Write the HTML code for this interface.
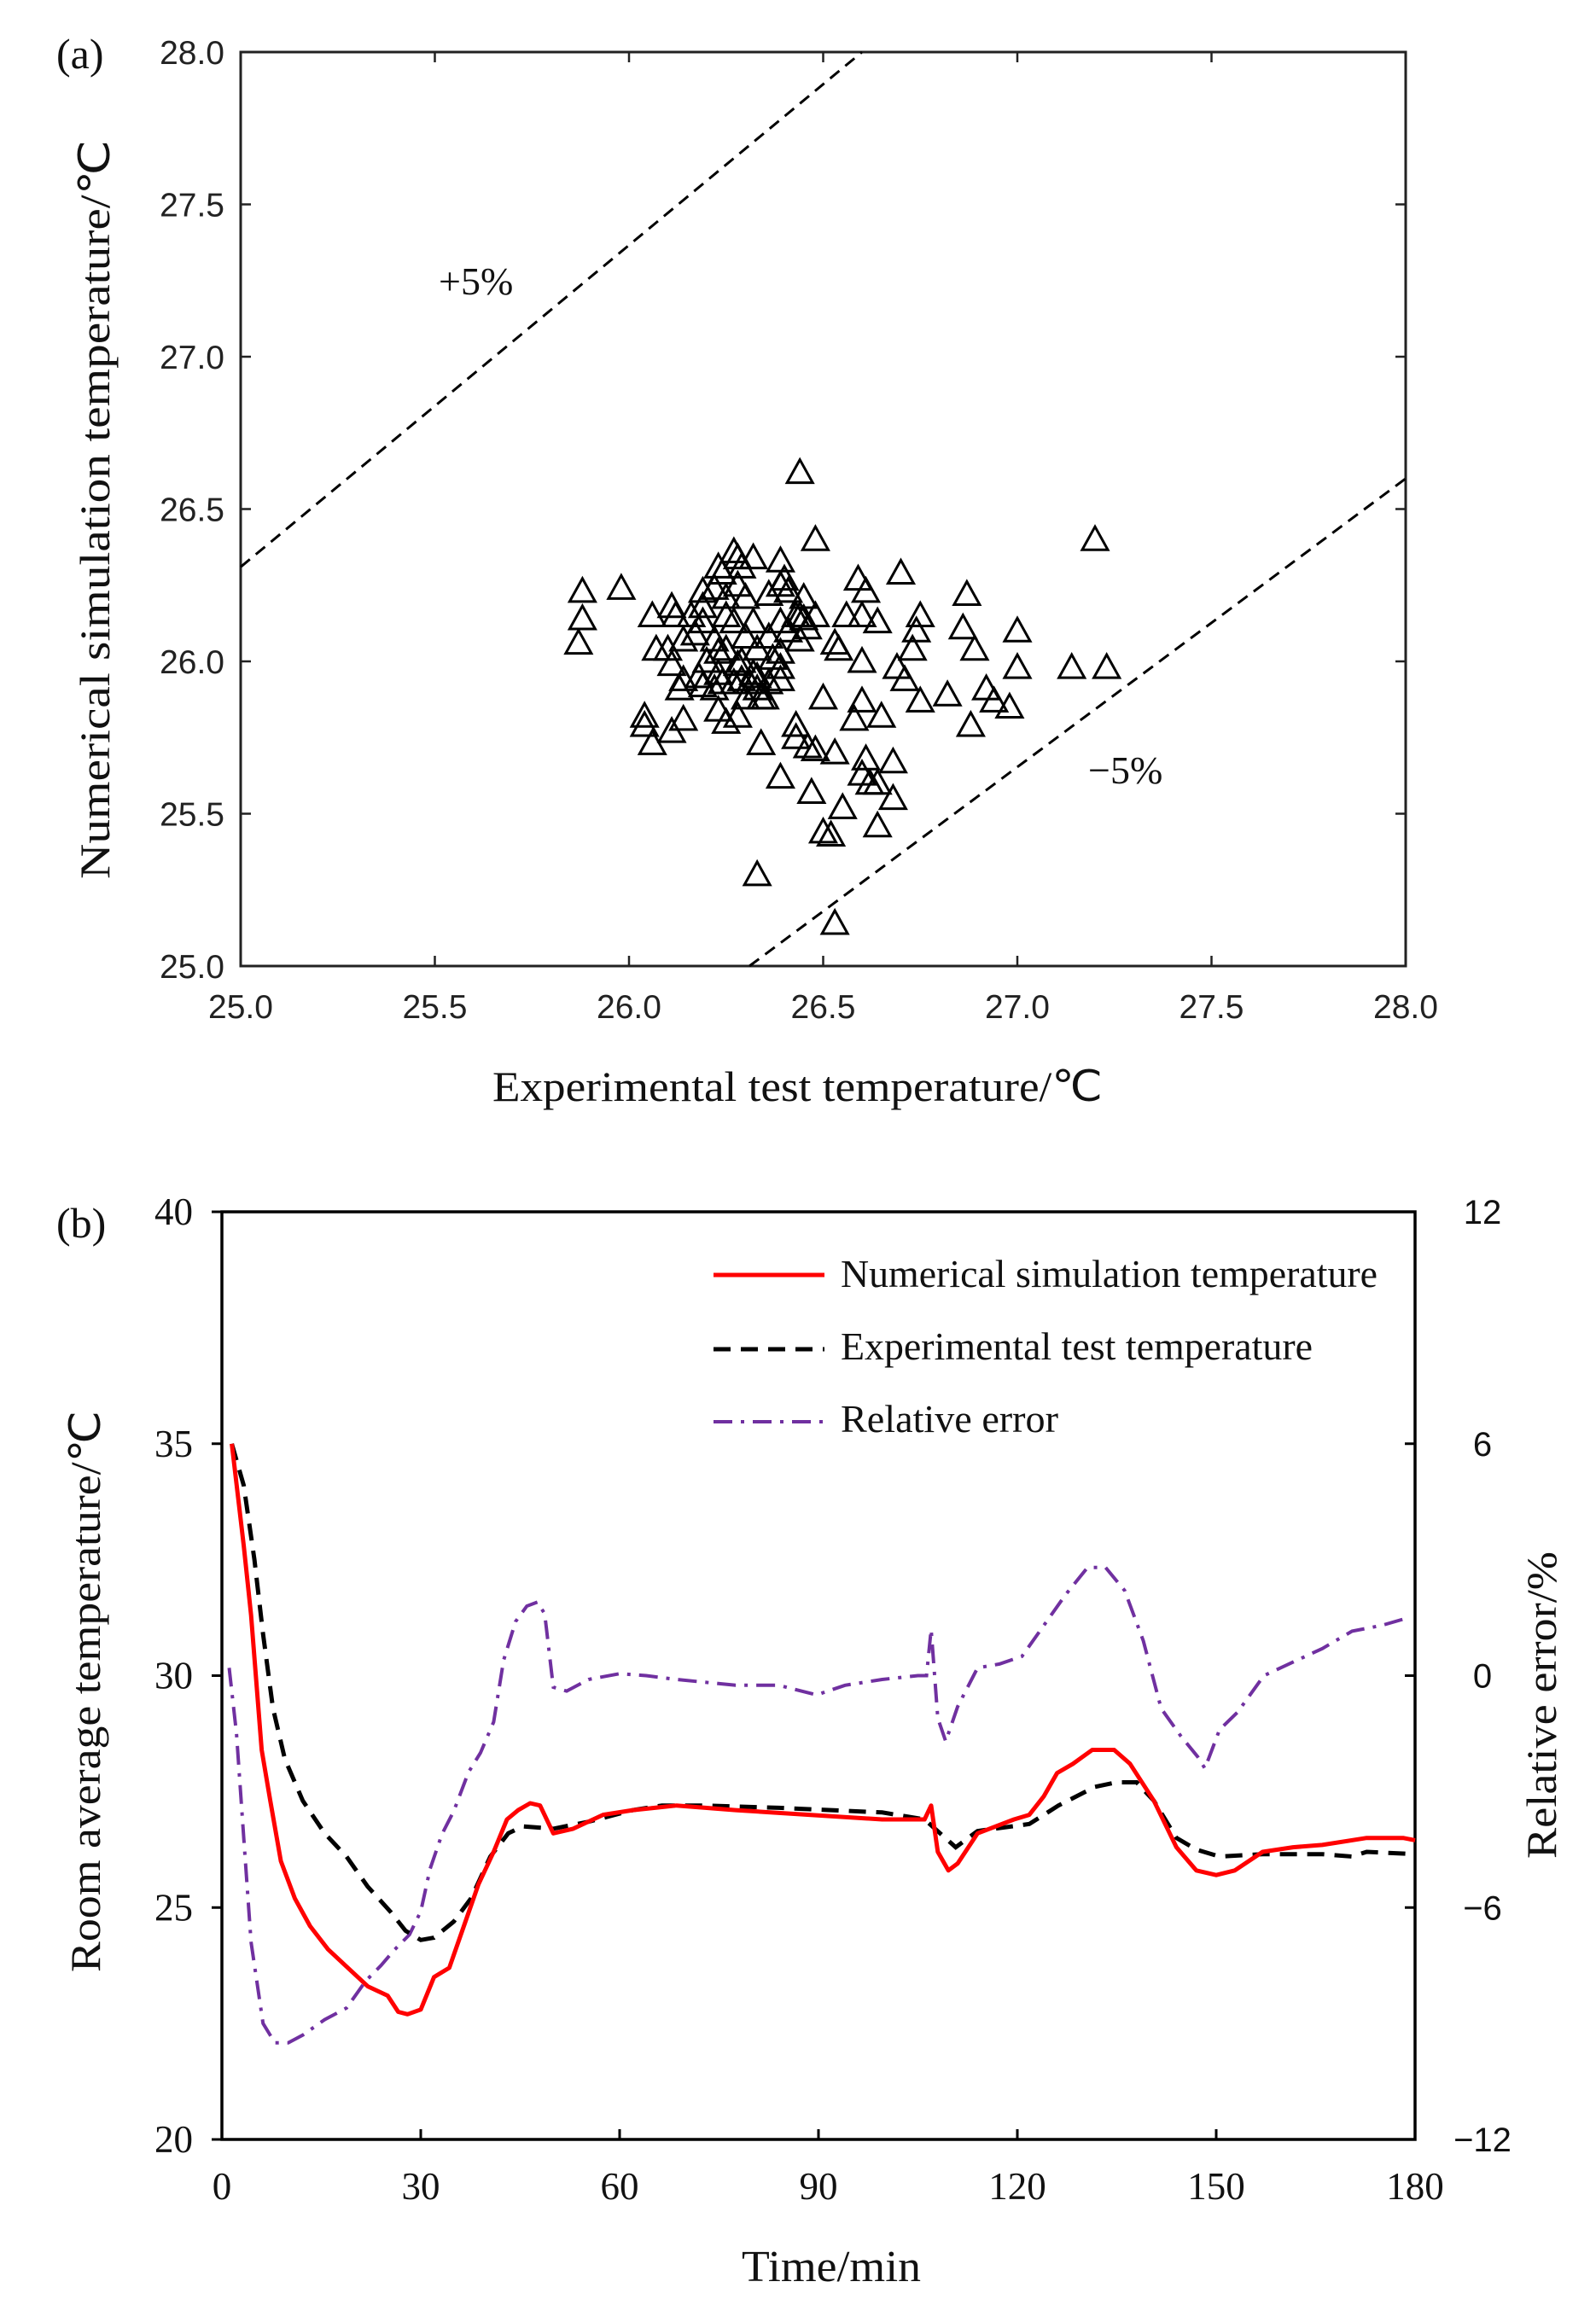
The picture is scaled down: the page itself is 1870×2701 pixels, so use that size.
<!DOCTYPE html>
<html><head><meta charset="utf-8">
<style>
html,body{margin:0;padding:0;background:#fff;}
svg{display:block;}
.sans{font-family:"Liberation Sans",Arial,sans-serif;}
.serif{font-family:"Liberation Serif","Times New Roman",serif;}
</style></head>
<body>
<svg id="fig" width="1870" height="2701" viewBox="0 0 1870 2701" xmlns="http://www.w3.org/2000/svg">
  <rect x="0" y="0" width="1870" height="2701" fill="#fff"/>
  <g id="chartA"></g>
  <g id="chartB"></g>
</svg>
<script>
// ---------- Chart (a) data ----------
const scatterX = [25.88,25.88,25.87,25.98,26.06,26.11,26.12,26.07,26.10,26.11,26.14,26.13,26.04,26.04,26.06,26.11,26.14,26.19,26.19,26.22,26.20,26.23,26.24,26.25,26.23,26.24,26.27,26.28,26.29,26.32,26.39,26.40,26.41,26.45,26.48,26.44,26.59,26.61,26.60,26.64,26.70,26.75,26.74,26.73,26.69,26.71,26.75,26.82,26.87,26.86,26.89,27.00,27.00,26.92,26.94,26.98,26.88,27.14,27.23,27.20,26.60,26.60,26.58,26.65,26.53,26.54,26.56,26.53,26.61,26.68,26.60,26.62,26.64,26.68,26.64,26.55,26.50,26.52,26.47,26.39,26.34,26.48,26.46,26.50,26.43,26.43,26.35,26.33,26.53,26.43,26.39,26.36,26.33,26.37,26.39,26.32,26.29,26.33,26.30,26.27,26.22,26.19,26.18,26.29,26.25,26.30,26.32,26.30,26.36,26.39,26.44,26.45,26.41,26.39,26.44,26.28,26.25,26.22,26.19,26.16,26.17,26.14,26.33,26.31,26.36,26.28,26.23,26.48,26.46,26.39,26.34,26.23,26.28,26.27,26.25];
const scatterY = [26.23,26.14,26.06,26.24,26.15,26.18,26.15,26.04,26.04,25.99,25.94,25.91,25.82,25.79,25.73,25.77,25.81,26.18,26.13,26.07,26.00,25.96,25.93,25.80,26.31,26.29,26.36,26.34,26.31,26.34,26.33,26.27,26.23,26.21,26.40,26.62,26.27,26.23,26.15,26.13,26.29,26.15,26.10,26.04,25.98,25.94,25.87,25.89,26.22,26.11,26.04,26.10,25.98,25.91,25.87,25.85,25.79,25.98,25.98,26.40,26.00,25.87,25.81,25.82,26.06,26.04,26.15,25.70,25.68,25.67,25.63,25.60,25.60,25.55,25.46,25.52,25.44,25.43,25.57,25.62,25.73,25.71,25.72,25.88,25.79,25.75,25.88,25.30,25.14,26.15,26.13,26.08,26.04,26.01,25.98,25.96,25.94,25.91,25.88,25.93,25.91,25.92,25.95,26.00,26.04,26.08,26.13,26.21,26.22,26.25,26.15,26.14,26.10,26.03,26.07,26.25,26.21,26.24,26.23,26.15,26.09,26.07,25.95,25.93,25.93,25.99,26.03,26.15,26.11,25.94,25.88,25.84,25.82,26.13,26.15];
const aTicks = [25.0,25.5,26.0,26.5,27.0,27.5,28.0];
const aTickLabels = ["25.0","25.5","26.0","26.5","27.0","27.5","28.0"];
const plusLineX = [25.0,26.60];
const plusLineY = [26.31,28.0];
const minusLineX = [26.31,28.0];
const minusLineY = [25.0,26.60];

// ---------- Chart (b) data ----------
const simT = [1.5,3.3,4.4,6,7.3,8.9,11,13.3,16,19,22,25,26.6,28,30,32,34.3,36.5,38.7,41,43,44.7,46.5,48,50,53,57.5,62,68.6,77.5,88.6,99.6,106,107,108,109.6,111,114,119.5,121.8,124,126,128.4,131.3,134.6,137,140.6,144,147,150,152.8,157,161.6,166,172.7,178.2,180];
const simV = [35.0,32.8,31.3,28.4,27.3,26.0,25.2,24.6,24.1,23.7,23.3,23.1,22.75,22.7,22.8,23.5,23.7,24.6,25.5,26.2,26.9,27.1,27.25,27.2,26.6,26.7,27.0,27.1,27.2,27.1,27.0,26.9,26.9,27.2,26.2,25.8,25.95,26.6,26.9,27.0,27.4,27.9,28.1,28.4,28.4,28.1,27.3,26.3,25.8,25.7,25.8,26.2,26.3,26.35,26.5,26.5,26.45];
const expT = [1.5,3.3,4.9,6.2,7.7,9.5,12.2,15.5,18.8,22,25.5,27.7,30,32,35,37.6,40.5,43.2,45.4,50,55.3,62,66.4,73,84,99.6,106,110.7,114,121.8,126.2,131.7,135,138,140.6,144,147,150.5,157,166,170.5,172.7,180];
const expV = [35.0,34.1,32.5,30.9,29.3,28.2,27.3,26.6,26.1,25.45,24.9,24.5,24.3,24.35,24.7,25.2,26.1,26.6,26.75,26.7,26.85,27.1,27.2,27.2,27.15,27.05,26.9,26.3,26.65,26.8,27.2,27.6,27.7,27.7,27.3,26.5,26.25,26.1,26.15,26.15,26.1,26.2,26.15];
const errT = [1.1,2.2,3.3,4.4,6.2,8,10,12.2,15.5,18.8,21.7,24,26,28.3,30,31.4,33.2,35,37.2,39,41,42.5,44.3,46,47.6,48.7,50,52,55.3,60,64,68.6,77.5,84,89.7,94,99.6,105,106.3,107,108,109.2,111,114,117.3,120.7,124,127.3,130.6,133.3,136.2,139,141.7,144.6,147.2,148.3,150.5,153.2,157.2,161.6,166,170.5,175,179];
const errV = [0.2,-1.5,-4.2,-6.9,-9.0,-9.5,-9.5,-9.3,-8.9,-8.6,-7.9,-7.5,-7.1,-6.7,-6.1,-5.0,-4.1,-3.5,-2.5,-2.0,-1.2,0.4,1.4,1.8,1.9,1.6,-0.3,-0.4,-0.1,0.05,0,-0.1,-0.25,-0.25,-0.5,-0.25,-0.1,0,0,1.2,-1.1,-1.7,-0.8,0.2,0.3,0.5,1.3,2.1,2.8,2.8,2.2,0.9,-0.85,-1.55,-2.1,-2.4,-1.4,-0.95,0,0.35,0.7,1.15,1.3,1.5];
const bXTicks = [0,30,60,90,120,150,180];
const bXLabels = ["0","30","60","90","120","150","180"];
const bLTicks = [20,25,30,35,40];
const bLLabels = ["20","25","30","35","40"];
const bRTicks = [-12,-6,0,6,12];
const bRLabels = ["\u221212","\u22126","0","6","12"];

const NS = "http://www.w3.org/2000/svg";
function mk(parent, tag, attrs, text){
  const e = document.createElementNS(NS, tag);
  for (const k in attrs) e.setAttribute(k, attrs[k]);
  if (text !== undefined) e.textContent = text;
  parent.appendChild(e);
  return e;
}

// ===== Chart A =====
(function(){
  const g = document.getElementById('chartA');
  const L=282, R=1647, T=61, B=1132;
  const xs = v => L + (v-25)/3*(R-L);
  const ys = v => B - (v-25)/3*(B-T);
  const frame = mk(g,'rect',{x:L,y:T,width:R-L,height:B-T,fill:'none',stroke:'#222','stroke-width':3});
  
  
  aTicks.forEach((v,i)=>{
    const t1 = mk(g,'line',{x1:xs(v),y1:B,x2:xs(v),y2:B-12,stroke:'#222','stroke-width':2.5});
    
    
    const t2 = mk(g,'line',{x1:xs(v),y1:T,x2:xs(v),y2:T+12,stroke:'#222','stroke-width':2.5});
    
    
    const t3 = mk(g,'line',{x1:L,y1:ys(v),x2:L+12,y2:ys(v),stroke:'#222','stroke-width':2.5});
    
    
    const t4 = mk(g,'line',{x1:R,y1:ys(v),x2:R-12,y2:ys(v),stroke:'#222','stroke-width':2.5});
    
    
    const xl = mk(g,'text',{x:xs(v),y:B+61,'text-anchor':'middle','font-size':39,fill:'#222',class:'sans'},aTickLabels[i]);
    
    
    const yl = mk(g,'text',{x:263,y:ys(v)+14,'text-anchor':'end','font-size':39,fill:'#222',class:'sans'},aTickLabels[i]);
    
    
  });
  const p = mk(g,'line',{x1:xs(plusLineX[0]),y1:ys(plusLineY[0]),x2:xs(plusLineX[1]),y2:ys(plusLineY[1]),stroke:'#000','stroke-width':3,'stroke-dasharray':'14 9'});
  
  
  const m = mk(g,'line',{x1:xs(minusLineX[0]),y1:ys(minusLineY[0]),x2:xs(minusLineX[1]),y2:ys(minusLineY[1]),stroke:'#000','stroke-width':3,'stroke-dasharray':'14 9'});
  
  
  scatterX.forEach((xv,i)=>{
    const cx = xs(xv), cy = ys(scatterY[i]);
    const tri = mk(g,'polygon',{points:`${cx},${cy-15} ${cx-15},${cy+12} ${cx+15},${cy+12}`,fill:'none',stroke:'#000','stroke-width':3});
    
    
  });
  const lp = mk(g,'text',{x:514,y:345,'font-size':46,fill:'#111',class:'serif'},'+5%');
  
  
  const lm = mk(g,'text',{x:1275,y:918,'font-size':46,fill:'#111',class:'serif'},'\u22125%');
  
  
  const pl = mk(g,'text',{x:66,y:80,'font-size':50,fill:'#111',class:'serif'},'(a)');
  
  
  const xt = mk(g,'text',{x:577,y:1290,'font-size':50,fill:'#111',class:'serif',textLength:715,lengthAdjust:'spacingAndGlyphs'},'Experimental test temperature/\u2103');
  
  
  const yt = mk(g,'text',{x:0,y:0,'font-size':50,fill:'#111',class:'serif',textLength:866,lengthAdjust:'spacingAndGlyphs',transform:'translate(128,1030) rotate(-90)'},'Numerical simulation temperature/\u2103');
  
  
})();

// ===== Chart B =====
(function(){
  const g = document.getElementById('chartB');
  const L=260, R=1658, T=1420, B=2507;
  const xs = v => L + v/180*(R-L);
  const yl = v => B - (v-20)/20*(B-T);
  const yr = v => B - (v+12)/24*(B-T);
  const frame = mk(g,'rect',{x:L,y:T,width:R-L,height:B-T,fill:'none',stroke:'#000','stroke-width':3.5});
  
  
  bXTicks.forEach((v,i)=>{
    const t = mk(g,'line',{x1:xs(v),y1:B,x2:xs(v),y2:B-12,stroke:'#000','stroke-width':3});
    
    
    const l = mk(g,'text',{x:xs(v),y:B+70,'text-anchor':'middle','font-size':45,fill:'#111',class:'serif'},bXLabels[i]);
    
    
  });
  bLTicks.forEach((v,i)=>{
    const t = mk(g,'line',{x1:L,y1:yl(v),x2:L-12,y2:yl(v),stroke:'#000','stroke-width':3});
    
    
    const l = mk(g,'text',{x:226,y:yl(v)+15,'text-anchor':'end','font-size':45,fill:'#111',class:'serif'},bLLabels[i]);
    
    
  });
  bRTicks.forEach((v,i)=>{
    const t = mk(g,'line',{x1:R,y1:yr(v),x2:R-12,y2:yr(v),stroke:'#000','stroke-width':3});
    
    
    const l = mk(g,'text',{x:1737,y:yr(v)+14,'text-anchor':'middle','font-size':40,fill:'#111',class:'sans'},bRLabels[i]);
    
    
  });
  const path = (T_,V_,f) => T_.map((t,i)=>(i?'L':'M')+xs(t).toFixed(1)+','+f(V_[i]).toFixed(1)).join(' ');
  const pe = mk(g,'path',{d:path(errT,errV,yr),fill:'none',stroke:'#7030A0','stroke-width':4,'stroke-dasharray':'22 10 4 10'});
  
  
  const px = mk(g,'path',{d:path(expT,expV,yl),fill:'none',stroke:'#000','stroke-width':5,'stroke-dasharray':'20 12'});
  
  
  const ps = mk(g,'path',{d:path(simT,simV,yl),fill:'none',stroke:'#f00','stroke-width':5,'stroke-linejoin':'round'});
  
  
  // legend
  const lg = mk(g,'g',{});
  
  
  const s1 = mk(lg,'line',{x1:836,y1:1494,x2:966,y2:1494,stroke:'#f00','stroke-width':5});
  
  
  const s2 = mk(lg,'line',{x1:836,y1:1581,x2:966,y2:1581,stroke:'#000','stroke-width':5,'stroke-dasharray':'20 12'});
  
  
  const s3 = mk(lg,'line',{x1:836,y1:1666,x2:966,y2:1666,stroke:'#7030A0','stroke-width':4,'stroke-dasharray':'22 10 4 10'});
  
  
  const t1 = mk(lg,'text',{x:985,y:1508,'font-size':46,fill:'#111',class:'serif',textLength:629,lengthAdjust:'spacingAndGlyphs'},'Numerical simulation temperature');
  
  
  const t2 = mk(lg,'text',{x:985,y:1593,'font-size':46,fill:'#111',class:'serif',textLength:553,lengthAdjust:'spacingAndGlyphs'},'Experimental test temperature');
  
  
  const t3 = mk(lg,'text',{x:985,y:1678,'font-size':46,fill:'#111',class:'serif',textLength:255,lengthAdjust:'spacingAndGlyphs'},'Relative error');
  
  
  const pl = mk(g,'text',{x:66,y:1450,'font-size':50,fill:'#111',class:'serif'},'(b)');
  
  
  const xt = mk(g,'text',{x:869,y:2673,'font-size':52,fill:'#111',class:'serif',textLength:210,lengthAdjust:'spacingAndGlyphs'},'Time/min');
  
  
  const ytl = mk(g,'text',{x:0,y:0,'font-size':50,fill:'#111',class:'serif',textLength:658,lengthAdjust:'spacingAndGlyphs',transform:'translate(117,2311) rotate(-90)'},'Room average temperature/\u2103');
  
  
  const ytr = mk(g,'text',{x:0,y:0,'font-size':50,fill:'#111',class:'serif',textLength:360,lengthAdjust:'spacingAndGlyphs',transform:'translate(1823,2178) rotate(-90)'},'Relative error/%');
  
  
})();
</script>
</body></html>
